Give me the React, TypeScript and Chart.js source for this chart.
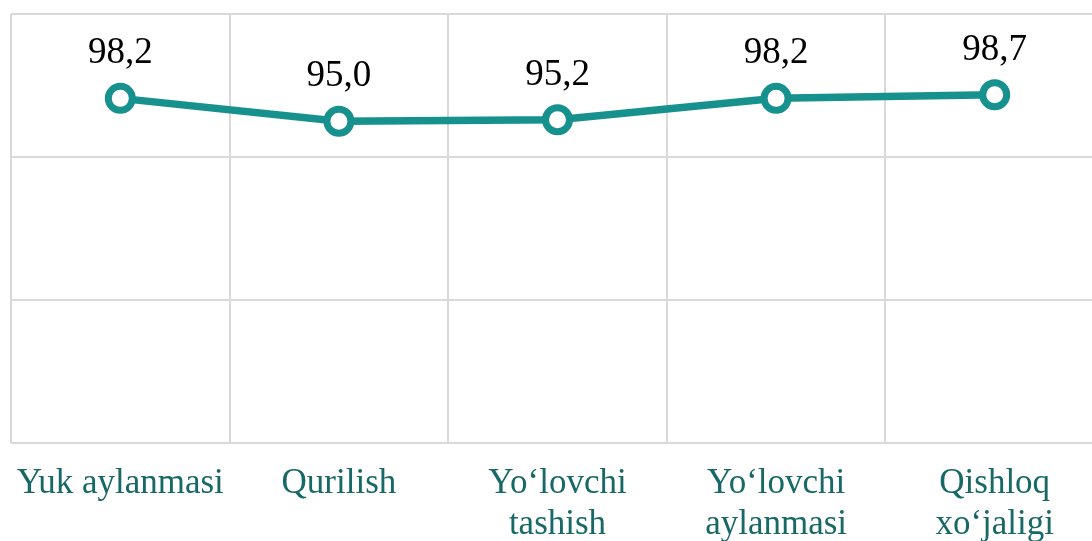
import React, { useEffect, useRef } from "react";
import { Chart, registerables } from "chart.js";

Chart.register(...registerables);

const categories: (string | string[])[] = [
  "Yuk aylanmasi",
  "Qurilish",
  ["Yo‘lovchi", "tashish"],
  ["Yo‘lovchi", "aylanmasi"],
  ["Qishloq", "xo‘jaligi"],
];
const values: number[] = [98.2, 95.0, 95.2, 98.2, 98.7];
const yMin = 50;
const yMax = 110;
const yStep = 20;

const fmt = (v: number) => v.toFixed(1).replace(".", ",");

const valueLabels = {
  id: "valueLabels",
  afterDatasetsDraw(chart: any) {
    const ctx = chart.ctx;
    const meta = chart.getDatasetMeta(0);
    ctx.save();
    ctx.font = '37px "Liberation Serif", "Times New Roman", serif';
    ctx.fillStyle = "#000000";
    ctx.textAlign = "center";
    ctx.textBaseline = "alphabetic";
    meta.data.forEach((pt: any, i: number) => {
      ctx.fillText(fmt(values[i]), pt.x, pt.y - 35);
    });
    ctx.restore();
  },
};

export default function App() {
  const ref = useRef<HTMLCanvasElement | null>(null);

  useEffect(() => {
    document.documentElement.style.overflow = "hidden";
    document.body.style.overflow = "hidden";
    document.body.style.margin = "0";
    if (!ref.current) return;
    const chart = new Chart(ref.current, {
      type: "line",
      data: {
        labels: categories as any,
        datasets: [
          {
            data: values,
            borderColor: "#17918d",
            borderWidth: 7.5,
            pointRadius: 12,
            pointHoverRadius: 12,
            pointBorderWidth: 7,
            pointBackgroundColor: "#ffffff",
            pointBorderColor: "#17918d",
            tension: 0,
            fill: false,
          },
        ],
      },
      options: {
        animation: false,
        responsive: false,
        maintainAspectRatio: false,
        devicePixelRatio: 1,
        layout: { autoPadding: false, padding: { left: 11, top: 14, right: 0, bottom: 0 } },
        plugins: {
          legend: { display: false },
          tooltip: { enabled: false },
        },
        scales: {
          x: {
            offset: true,
            grid: {
              offset: true,
              color: "#d9d9d9",
              lineWidth: 2,
              drawTicks: false,
            },
            border: { display: false },
            ticks: {
              color: "#176866",
              font: { family: '"Liberation Serif", "Times New Roman", serif', size: 35, lineHeight: 1.17 },
              padding: 20,
              maxRotation: 0,
              minRotation: 0,
              autoSkip: false,
            },
            afterFit: (scale: any) => {
              scale.height = 98;
              scale.paddingLeft = 0;
              scale.paddingRight = 0;
            },
          },
          y: {
            min: yMin,
            max: yMax,
            ticks: { display: false, stepSize: yStep },
            grid: { color: "#d9d9d9", lineWidth: 2, drawTicks: false },
            border: { display: false },
            afterFit: (scale: any) => {
              scale.width = 0;
              scale.paddingTop = 0;
              scale.paddingBottom = 0;
            },
          },
        },
      },
      plugins: [valueLabels],
    });
    return () => chart.destroy();
  }, []);

  return (
    <div style={{ position: "fixed", left: 0, top: 0, width: 1104, height: 541, background: "#fff" }}>
      <canvas ref={ref} width={1104} height={541} style={{ display: "block" }} />
    </div>
  );
}
